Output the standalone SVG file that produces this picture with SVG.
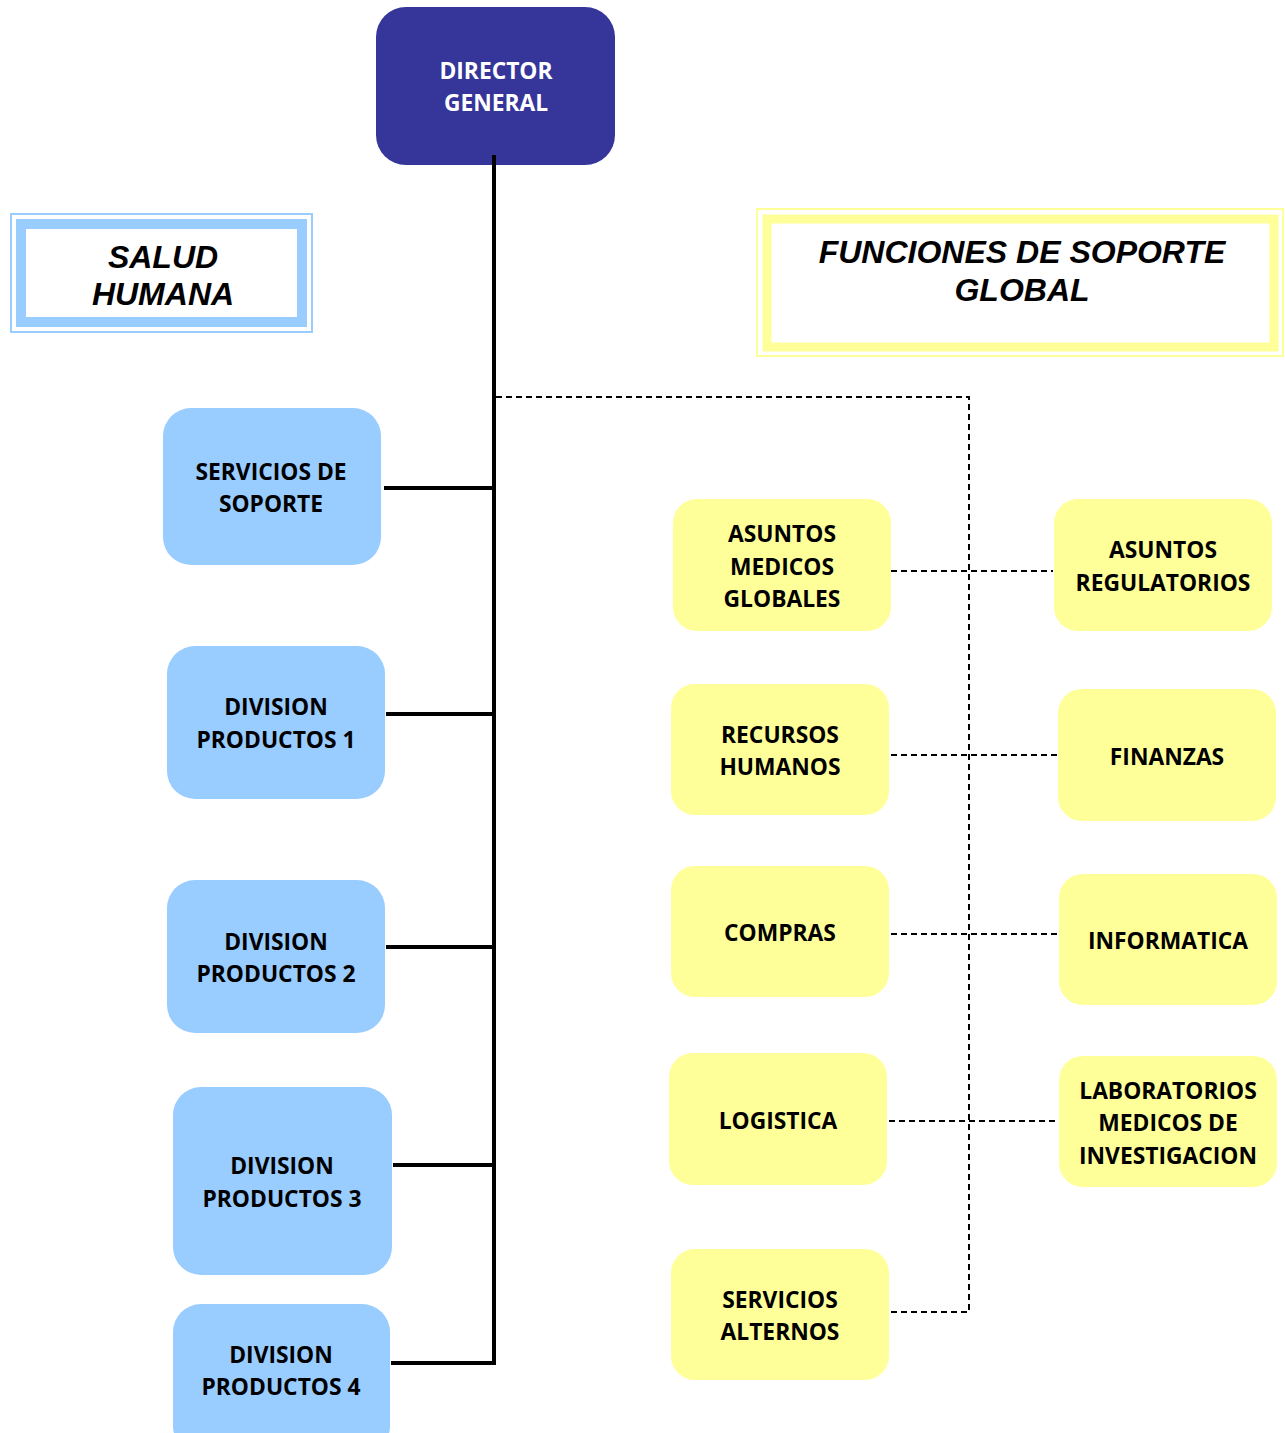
<svg xmlns="http://www.w3.org/2000/svg" width="1285" height="1433" viewBox="0 0 1285 1433">
<style>
.blue{fill:#99ccff}
.yel{fill:#ffff99}
.t{font-family:"Open Sans","Liberation Sans",sans-serif;font-weight:bold;font-size:22.8px;text-anchor:middle;fill:#000}
.tw{fill:#fff}
.h{font-family:"Liberation Sans",Arial,sans-serif;font-weight:bold;font-style:italic;font-size:32px;text-anchor:middle;fill:#000}
.solid{stroke:#000;stroke-width:4;fill:none}
.dash{stroke:#000;stroke-width:2;fill:none;stroke-dasharray:6 4}
</style>
<rect width="1285" height="1433" fill="#fff"/>
<g id="director">
<rect x="376" y="7" width="239" height="158" rx="30" fill="#35359a"/>
<text class="t tw" x="496" y="79">DIRECTOR</text>
<text class="t tw" x="496" y="111">GENERAL</text>
</g>
<g id="salud-humana">
<rect x="11" y="214" width="301" height="118" fill="none" stroke="#99ccff" stroke-width="2"/>
<rect x="21" y="224" width="281" height="98" fill="#fff" stroke="#99ccff" stroke-width="10"/>
<text class="h" x="163" y="268">SALUD</text>
<text class="h" x="163" y="305">HUMANA</text>
</g>
<g id="funciones">
<rect x="757" y="209" width="526" height="147" fill="none" stroke="#ffff99" stroke-width="2"/>
<rect x="767" y="219" width="507" height="128" fill="#fff" stroke="#ffff99" stroke-width="9"/>
<text class="h" x="1022" y="263">FUNCIONES DE SOPORTE</text>
<text class="h" x="1022" y="301">GLOBAL</text>
</g>
<g id="servicios-soporte">
<rect class="blue" x="163" y="408" width="218" height="157" rx="28"/>
<text class="t" x="271" y="480">SERVICIOS DE</text>
<text class="t" x="271" y="512">SOPORTE</text>
</g>
<g id="division-1">
<rect class="blue" x="167" y="646" width="218" height="153" rx="28"/>
<text class="t" x="276" y="715">DIVISION</text>
<text class="t" x="276" y="748">PRODUCTOS 1</text>
</g>
<g id="division-2">
<rect class="blue" x="167" y="880" width="218" height="153" rx="28"/>
<text class="t" x="276" y="950">DIVISION</text>
<text class="t" x="276" y="982">PRODUCTOS 2</text>
</g>
<g id="division-3">
<rect class="blue" x="173" y="1087" width="219" height="188" rx="28"/>
<text class="t" x="282" y="1174">DIVISION</text>
<text class="t" x="282" y="1207">PRODUCTOS 3</text>
</g>
<g id="division-4">
<rect class="blue" x="173" y="1304" width="217" height="150" rx="28"/>
<text class="t" x="281" y="1363">DIVISION</text>
<text class="t" x="281" y="1395">PRODUCTOS 4</text>
</g>
<g id="asuntos-medicos">
<rect class="yel" x="673" y="499" width="218" height="132" rx="24"/>
<text class="t" x="782" y="542">ASUNTOS</text>
<text class="t" x="782" y="575">MEDICOS</text>
<text class="t" x="782" y="607">GLOBALES</text>
</g>
<g id="asuntos-regulatorios">
<rect class="yel" x="1054" y="499" width="218" height="132" rx="24"/>
<text class="t" x="1163" y="558">ASUNTOS</text>
<text class="t" x="1163" y="591">REGULATORIOS</text>
</g>
<g id="recursos-humanos">
<rect class="yel" x="671" y="684" width="218" height="131" rx="24"/>
<text class="t" x="780" y="743">RECURSOS</text>
<text class="t" x="780" y="775">HUMANOS</text>
</g>
<g id="finanzas">
<rect class="yel" x="1058" y="689" width="218" height="132" rx="24"/>
<text class="t" x="1167" y="765">FINANZAS</text>
</g>
<g id="compras">
<rect class="yel" x="671" y="866" width="218" height="131" rx="24"/>
<text class="t" x="780" y="941">COMPRAS</text>
</g>
<g id="informatica">
<rect class="yel" x="1059" y="874" width="218" height="131" rx="24"/>
<text class="t" x="1168" y="949">INFORMATICA</text>
</g>
<g id="logistica">
<rect class="yel" x="669" y="1053" width="218" height="132" rx="24"/>
<text class="t" x="778" y="1129">LOGISTICA</text>
</g>
<g id="laboratorios">
<rect class="yel" x="1059" y="1056" width="218" height="131" rx="24"/>
<text class="t" x="1168" y="1099">LABORATORIOS</text>
<text class="t" x="1168" y="1131">MEDICOS DE</text>
<text class="t" x="1168" y="1164">INVESTIGACION</text>
</g>
<g id="servicios-alternos">
<rect class="yel" x="671" y="1249" width="218" height="131" rx="24"/>
<text class="t" x="780" y="1308">SERVICIOS</text>
<text class="t" x="780" y="1340">ALTERNOS</text>
</g>
<g id="connectors">
<path class="solid" d="M494 155V1365M384 488H496M386 714H494M386 947H494M393 1165H494M391 1363H496"/>
<path class="dash" d="M496 397H969V1312H891M891 571H1053M891 755H1057M891 934H1058M889 1121H1058"/>
</g>
</svg>
